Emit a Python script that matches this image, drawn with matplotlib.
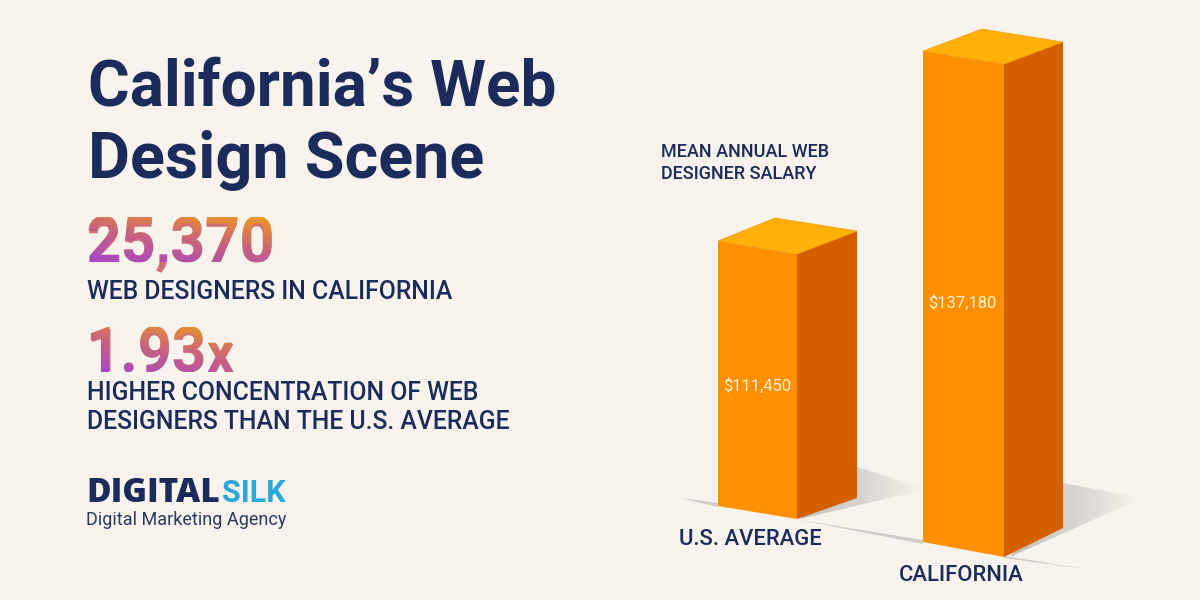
import numpy as np
import matplotlib
matplotlib.use('Agg')
import matplotlib.pyplot as plt
from matplotlib.colors import LinearSegmentedColormap
from matplotlib.font_manager import FontProperties
from matplotlib.patches import PathPatch, Polygon
from matplotlib.textpath import TextPath
from matplotlib.transforms import Affine2D

plt.rcParams['font.family'] = ['Roboto', 'DejaVu Sans']

# data
categories = ['U.S. AVERAGE', 'CALIFORNIA']
salaries = [111450, 137180]
salary_labels = ['$111,450', '$137,180']
stat_values = ['25,370', '1.93']
title_lines = ['California’s Web', 'Design Scene']

# the bars in the picture do not start at zero
SALARY_FLOOR = 81543
PX_PER_DOLLAR = 0.00886

# layout, pixels
BG = '#f8f3ec'
NAVY = '#1b2c5c'
DPI = 100
bar_front = [(797, 519), (1004, 557)]
bar_base_left = [(-79, -13), (-81, -15)]
bar_base_right = [(60, -21), (59, -29)]
bar_top_left = [(-79, -13), (-81, -13)]
bar_top_right = [(60, -23), (59, -22)]
bar_top_back = [(-22, -36), (-22, -35)]
label_pos = [(757, 386), (962, 303)]
cat_pos = [(679, 545), (899, 581)]

grad = LinearSegmentedColormap.from_list('stat', ['#a845c8', '#c9627f', '#ee9a1e'])
shade = LinearSegmentedColormap.from_list('shade', ['#c4c0bc', '#d8d4cf', BG])


def gradient(ax, patch, extent, cmap, angle=(1, 1)):
    # image clipped by a patch, extent is x0, x1, y0, y1 in pixels
    xx, yy = np.meshgrid(np.linspace(0, 1, 200), np.linspace(0, 1, 200))
    t = (angle[0] * xx + angle[1] * yy) / (angle[0] + angle[1])
    im = ax.imshow(t, extent=(extent[0], extent[1], extent[3], extent[2]), origin='lower',
                   cmap=cmap, vmin=0, vmax=1, aspect='auto', zorder=patch.get_zorder(),
                   interpolation='bilinear')
    ax.add_patch(patch)
    patch.set_visible(False)
    im.set_clip_path(patch)
    return im


def grad_text(ax, x, y, s, size, extent, stretch):
    # real text underneath, gradient copy of it on top stretched up to the cap height
    fp = FontProperties(family='Roboto', weight='bold')
    ax.text(x, y, s, fontsize=size, family='Roboto', weight='bold',
            color='#cf6f78', va='baseline', ha='left', zorder=3)
    path = TextPath((0, 0), s, size=size, prop=fp)
    k = DPI / 72
    tr = Affine2D().scale(k, -k * stretch).translate(x, y) + ax.transData
    patch = PathPatch(path, transform=tr, zorder=4)
    gradient(ax, patch, extent, grad, angle=(0.35, 0.65))


def txt(ax, x, y, s, size, weight='medium', color=NAVY, ha='left', family='Roboto'):
    ax.text(x, y, s, fontsize=size, weight=weight, color=color, ha=ha, va='baseline', zorder=5,
            family=family)


fig = plt.figure(figsize=(12, 6), dpi=DPI, facecolor=BG)
ax = fig.add_axes([0, 0, 1, 1])
ax.set_xlim(0, 1200)
ax.set_ylim(600, 0)
ax.axis('off')

# title and left column
txt(ax, 88, 105, title_lines[0], 46, 'bold')
txt(ax, 88, 178, title_lines[1], 46.5, 'bold')
grad_text(ax, 86.5, 262, stat_values[0], 43.5, (88, 272, 217, 262), 1.06)
txt(ax, 87, 299, 'WEB DESIGNERS IN CALIFORNIA', 17.85)
grad_text(ax, 86, 372, stat_values[1], 43, (88, 234, 327, 372), 1.07)
grad_text(ax, 207, 372, 'x', 37, (88, 234, 327, 372), 1.08)
txt(ax, 87, 400, 'HIGHER CONCENTRATION OF WEB', 17.85)
txt(ax, 87, 429, 'DESIGNERS THAN THE U.S. AVERAGE', 17.85)

# logo
txt(ax, 86, 502, 'DIGITAL', 24, 800, NAVY, family='Open Sans')
txt(ax, 222, 502, 'SILK', 22, 'bold', '#2aa8dc')
txt(ax, 86, 525, 'Digital Marketing Agency', 13, 'normal', '#2c3a5e')

txt(ax, 661, 157, 'MEAN ANNUAL WEB', 13)
txt(ax, 661, 179, 'DESIGNER SALARY', 13)

# shadows on the floor
for pts in [[(857, 467), (923, 488), (923, 490), (800, 519)],
            [(1063, 483), (1142, 498), (1010, 557)]]:
    pts = np.array(pts)
    patch = Polygon(pts, closed=True, zorder=1)
    ext = (pts[:, 0].min(), pts[:, 0].max(), pts[:, 1].min(), pts[:, 1].max())
    gradient(ax, patch, ext, shade, angle=(1, 0))
for pts in [[(800, 520), (923, 540), (923, 544)],
            [(1004, 556), (1085, 569), (1004, 558)],
            [(680, 498), (718, 503), (718, 507)]]:
    ax.add_patch(Polygon(pts, closed=True, facecolor='#cfcbc6', edgecolor='none', zorder=1))

# bars
for i, value in enumerate(salaries):
    fx, fy = bar_front[i]
    h = (value - SALARY_FLOOR) * PX_PER_DOLLAR
    ty = fy - h
    bl = (fx + bar_base_left[i][0], fy + bar_base_left[i][1])
    br = (fx + bar_base_right[i][0], fy + bar_base_right[i][1])
    tl = (fx + bar_top_left[i][0], ty + bar_top_left[i][1])
    tr = (fx + bar_top_right[i][0], ty + bar_top_right[i][1])
    tb = (fx + bar_top_back[i][0], ty + bar_top_back[i][1])
    ax.fill(*zip(bl, (fx, fy), (fx, ty), tl), color='#ff8f03', lw=0, zorder=2)
    ax.fill(*zip((fx, fy), br, tr, (fx, ty)), color='#d35f00', lw=0, zorder=2)
    ax.fill(*zip(tl, (fx, ty), tr, tb), facecolor='#ffb10a', edgecolor='#f59a08', lw=0.5, zorder=2)
    ax.text(*label_pos[i], salary_labels[i], fontsize=12, color='#fff1d2', ha='center',
            va='center', zorder=5)
    txt(ax, *cat_pos[i], categories[i], 15.8)

ax.set_xlim(0, 1200)
ax.set_ylim(600, 0)
fig.savefig('out.png', dpi=DPI, facecolor=BG)
